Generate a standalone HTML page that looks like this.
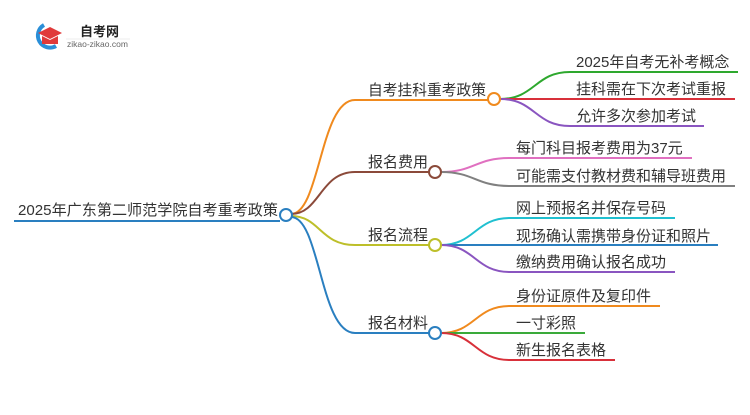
<!DOCTYPE html>
<html><head><meta charset="utf-8"><style>
html,body{margin:0;padding:0;background:#fff;}
svg text{font-family:"Liberation Sans","Noto Sans CJK SC",sans-serif;fill:#333;}
</style></head><body>
<svg width="750" height="410" viewBox="0 0 750 410" xmlns="http://www.w3.org/2000/svg">
<path d="M44 25 A11 11 0 1 0 56 46" fill="none" stroke="#2a8fd8" stroke-width="4"/>
<path d="M38 33 L50 27 L62 33 L50 39 Z" fill="#e03a3a"/>
<path d="M42 36 L42 44 L58 44 L58 36 L50 40 Z" fill="#e03a3a"/>
<text x="80" y="36" font-size="13" font-weight="bold" style="fill:#222">自考网</text>
<text x="67" y="47" font-size="8.5" style="fill:#666">zikao-zikao.com</text>
<line x1="66" y1="39" x2="130" y2="39" stroke="#ddd" stroke-width="0.6"/>

<g fill="none" stroke-width="2">
<path d="M14 221 H280" stroke="#2a7fc0"/>
<path d="M291 214 C320 214 320 100 355 100 H488" stroke="#f08a1e"/>
<path d="M291 214 C320 214 320 172 355 172 H429" stroke="#8b4a3a"/>
<path d="M291 216 C320 216 320 245 355 245 H429" stroke="#bdbf2a"/>
<path d="M291 217 C320 217 320 333 355 333 H429" stroke="#2a7fc0"/>
<path d="M500 99 C535 99 535 72 570 72 H738" stroke="#2ea82e"/>
<path d="M500 99 H735" stroke="#d8303a"/>
<path d="M500 99 C535 99 535 126 570 126 H704" stroke="#8a55c0"/>
<path d="M441 172 C475 172 475 158 510 158 H692" stroke="#e070c0"/>
<path d="M441 172 C475 172 475 186 510 186 H735" stroke="#808080"/>
<path d="M441 245 C475 245 475 218 510 218 H675" stroke="#20c0d0"/>
<path d="M441 245 H718" stroke="#2a7fc0"/>
<path d="M441 245 C475 245 475 272 510 272 H675" stroke="#8a55c0"/>
<path d="M441 333 C475 333 475 306 510 306 H660" stroke="#f08a1e"/>
<path d="M441 333 H585" stroke="#3aaa3a"/>
<path d="M441 333 C475 333 475 360 510 360 H615" stroke="#d8303a"/>
</g>
<g fill="#fff" stroke-width="2">
<circle cx="286" cy="215" r="6" stroke="#2a7fc0"/>
<circle cx="494" cy="99" r="6" stroke="#f08a1e"/>
<circle cx="435" cy="172" r="6" stroke="#8b4a3a"/>
<circle cx="435" cy="245" r="6" stroke="#bdbf2a"/>
<circle cx="435" cy="333" r="6" stroke="#2a7fc0"/>
</g>
<g font-size="15">
<text x="18" y="215" textLength="260" lengthAdjust="spacingAndGlyphs">2025年广东第二师范学院自考重考政策</text>
<text x="368" y="95" textLength="118" lengthAdjust="spacingAndGlyphs">自考挂科重考政策</text>
<text x="368" y="167">报名费用</text>
<text x="368" y="240">报名流程</text>
<text x="368" y="328">报名材料</text>
</g>
<g font-size="15">
<text x="576" y="67">2025年自考无补考概念</text>
<text x="576" y="94">挂科需在下次考试重报</text>
<text x="576" y="121">允许多次参加考试</text>
<text x="516" y="153">每门科目报考费用为37元</text>
<text x="516" y="181">可能需支付教材费和辅导班费用</text>
<text x="516" y="213">网上预报名并保存号码</text>
<text x="516" y="241">现场确认需携带身份证和照片</text>
<text x="516" y="267">缴纳费用确认报名成功</text>
<text x="516" y="301">身份证原件及复印件</text>
<text x="516" y="328">一寸彩照</text>
<text x="516" y="355">新生报名表格</text>
</g>
</svg>
</body></html>
